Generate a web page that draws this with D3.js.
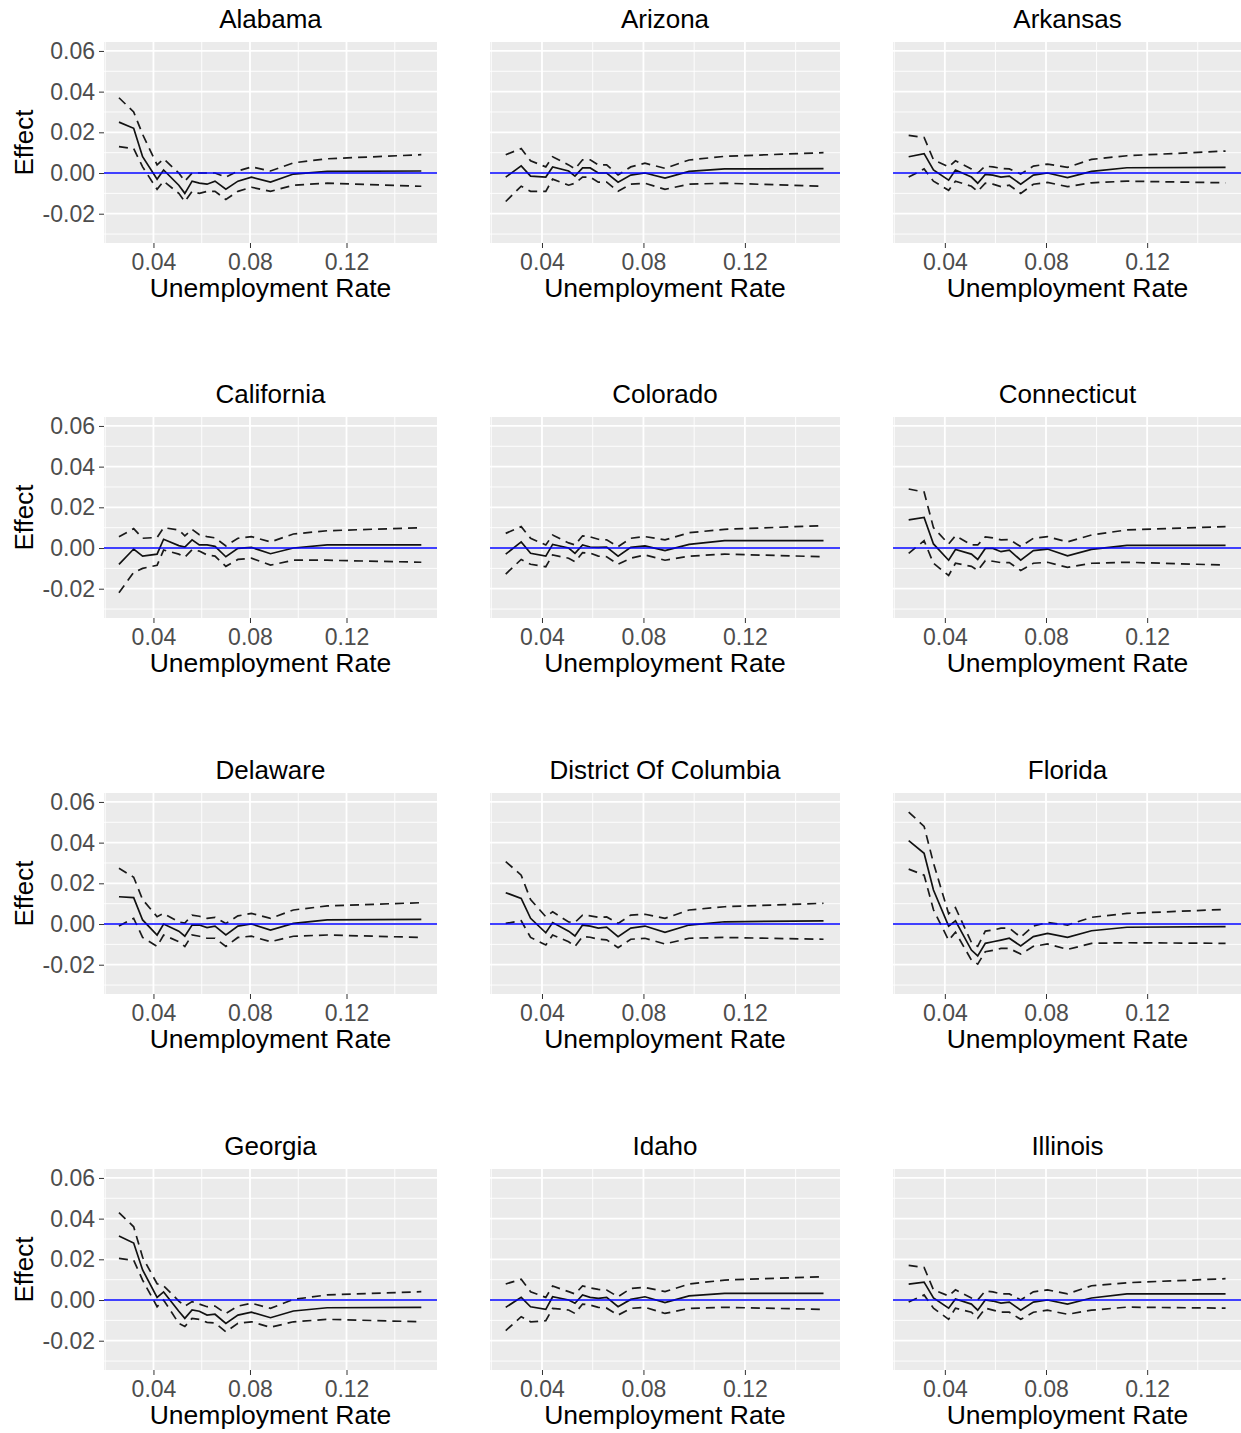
<!DOCTYPE html>
<html>
<head>
<meta charset="utf-8">
<script src="https://cdn.jsdelivr.net/npm/d3@7"></script>
<style>
  body { margin: 0; background: #fff; }
  svg { display: block; font-family: "Liberation Sans", Arial, Helvetica, sans-serif; }
</style>
</head>
<body>
<div id="chart"></div>
<script>
// State names, in panel order (row by row)
var states = ["Alabama", "Arizona", "Arkansas",
              "California", "Colorado", "Connecticut",
              "Delaware", "District Of Columbia", "Florida",
              "Georgia", "Idaho", "Illinois"];

// Unemployment rate grid shared by every panel
var rates = [0.0257, 0.0318, 0.0355, 0.0415, 0.0442, 0.0505, 0.0530, 0.0560, 0.0590,
             0.0622, 0.0655, 0.0700, 0.0750, 0.0806, 0.0885, 0.0980, 0.1120, 0.1510];

var xTicks = [0.04, 0.08, 0.12];
var yTicks = [-0.02, 0.00, 0.02, 0.04, 0.06];

// Point estimates, one row per state
var estimates = [
  [0.025, 0.022, 0.008, -0.003, 0.0015, -0.006, -0.010, -0.004, -0.005, -0.0055, -0.004, -0.008, -0.004, -0.002, -0.0045, -0.0005, 0.0008, 0.001],
  [-0.002, 0.0035, -0.0015, -0.002, 0.003, 0.001, -0.0015, 0.0025, 0.0025, 0.000, 0.000, -0.0045, -0.001, 0.000, -0.0025, 0.0008, 0.002, 0.0022],
  [0.008, 0.0095, 0.0015, -0.0035, 0.0015, -0.002, -0.005, -0.0007, -0.001, -0.002, -0.0015, -0.0055, -0.001, 0.000, -0.0023, 0.0008, 0.0026, 0.0028],
  [-0.008, -0.0005, -0.004, -0.003, 0.0043, 0.0012, 0.0005, 0.004, 0.0015, 0.0015, 0.0008, -0.0043, -0.0002, 0.0003, -0.0028, 0.000, 0.0015, 0.0015],
  [-0.003, 0.003, -0.0026, -0.004, 0.0018, 0.000, -0.0026, 0.0015, 0.0005, 0.0003, 0.0005, -0.004, 0.0003, 0.001, -0.0013, 0.0018, 0.0036, 0.0036],
  [0.0138, 0.015, 0.002, -0.006, -0.0007, -0.003, -0.0056, -0.0002, -0.0002, -0.0018, -0.001, -0.006, -0.0013, -0.0005, -0.0038, -0.0007, 0.0013, 0.0013],
  [0.0134, 0.013, 0.002, -0.0054, 0.000, -0.0035, -0.006, -0.0005, -0.0005, -0.0018, -0.001, -0.0054, -0.001, 0.000, -0.003, 0.0003, 0.002, 0.0023],
  [0.0154, 0.0126, 0.0028, -0.0043, 0.0007, -0.0035, -0.0059, -0.0005, -0.001, -0.002, -0.0015, -0.0062, -0.002, -0.001, -0.0041, -0.0005, 0.0011, 0.0015],
  [0.041, 0.0348, 0.0167, -0.001, 0.0016, -0.0128, -0.0157, -0.0095, -0.0087, -0.0079, -0.007, -0.0108, -0.0062, -0.0046, -0.0066, -0.0033, -0.0016, -0.0013],
  [0.0315, 0.028, 0.0148, 0.0013, 0.004, -0.0055, -0.009, -0.0049, -0.0055, -0.0074, -0.007, -0.0115, -0.0074, -0.006, -0.0087, -0.0054, -0.0038, -0.0036],
  [-0.0036, 0.0013, -0.0033, -0.0046, 0.0016, 0.000, -0.0016, 0.0025, 0.0013, 0.0008, 0.0013, -0.0033, 0.0003, 0.0016, -0.0013, 0.002, 0.0033, 0.0033],
  [0.0078, 0.0088, 0.001, -0.004, 0.0005, -0.002, -0.005, 0.000, -0.0005, -0.0015, -0.001, -0.005, -0.001, 0.000, -0.002, 0.001, 0.003, 0.003]
];

// Upper confidence bound
var upperCI = [
  [0.037, 0.030, 0.019, 0.004, 0.007, 0.000, -0.004, 0.000, 0.000, 0.000, 0.000, -0.002, 0.001, 0.003, 0.001, 0.005, 0.007, 0.009],
  [0.009, 0.012, 0.006, 0.003, 0.008, 0.004, 0.002, 0.0065, 0.0065, 0.004, 0.004, -0.001, 0.003, 0.0048, 0.0023, 0.0064, 0.0082, 0.010],
  [0.0185, 0.0175, 0.0065, 0.003, 0.006, 0.002, 0.000, 0.0034, 0.003, 0.0023, 0.002, -0.0005, 0.0034, 0.0044, 0.0028, 0.0067, 0.0085, 0.0108],
  [0.0055, 0.0095, 0.0048, 0.0052, 0.010, 0.0088, 0.006, 0.0092, 0.0065, 0.0056, 0.005, 0.001, 0.0048, 0.0056, 0.003, 0.0069, 0.0085, 0.010],
  [0.0072, 0.0105, 0.0048, 0.0015, 0.0064, 0.0025, 0.0015, 0.006, 0.0055, 0.0043, 0.004, 0.0007, 0.0048, 0.0056, 0.004, 0.0075, 0.0092, 0.011],
  [0.029, 0.0275, 0.010, 0.002, 0.006, 0.0015, 0.0015, 0.0055, 0.005, 0.004, 0.0042, 0.0007, 0.0048, 0.0056, 0.003, 0.0064, 0.0089, 0.0105],
  [0.0274, 0.023, 0.012, 0.0036, 0.0052, 0.001, 0.0005, 0.0044, 0.0038, 0.0028, 0.0033, 0.0003, 0.004, 0.0052, 0.0028, 0.0069, 0.0089, 0.0105],
  [0.0307, 0.024, 0.012, 0.0036, 0.006, 0.001, 0.0008, 0.0044, 0.004, 0.0033, 0.0035, 0.0003, 0.0044, 0.0048, 0.0028, 0.0069, 0.0085, 0.0102],
  [0.055, 0.048, 0.030, 0.005, 0.008, -0.009, -0.011, -0.0035, -0.003, -0.002, -0.002, -0.0065, -0.001, 0.0007, -0.0005, 0.0033, 0.0052, 0.0072],
  [0.043, 0.036, 0.021, 0.008, 0.007, -0.0005, -0.003, -0.0008, -0.002, -0.0033, -0.003, -0.0066, -0.003, -0.0016, -0.0041, 0.0003, 0.0025, 0.0041],
  [0.0079, 0.0102, 0.0041, 0.0013, 0.0069, 0.0041, 0.003, 0.0069, 0.006, 0.0052, 0.0049, 0.0016, 0.0057, 0.0062, 0.0041, 0.0079, 0.0098, 0.0115],
  [0.017, 0.016, 0.005, 0.002, 0.005, 0.001, 0.000, 0.0045, 0.004, 0.003, 0.003, 0.000, 0.004, 0.005, 0.003, 0.007, 0.0085, 0.0105]
];

// Lower confidence bound
var lowerCI = [
  [0.013, 0.012, 0.003, -0.008, -0.004, -0.010, -0.014, -0.009, -0.010, -0.009, -0.009, -0.013, -0.009, -0.007, -0.009, -0.006, -0.005, -0.0065],
  [-0.014, -0.0065, -0.009, -0.009, -0.003, -0.006, -0.005, -0.002, -0.002, -0.0045, -0.0045, -0.009, -0.0055, -0.005, -0.008, -0.0055, -0.005, -0.0065],
  [-0.002, 0.002, -0.004, -0.0085, -0.004, -0.0065, -0.009, -0.005, -0.0055, -0.0067, -0.006, -0.010, -0.0055, -0.0046, -0.0067, -0.0048, -0.004, -0.0048],
  [-0.022, -0.012, -0.010, -0.0085, -0.001, -0.003, -0.0045, -0.0008, -0.0015, -0.0034, -0.004, -0.009, -0.0056, -0.005, -0.0084, -0.006, -0.006, -0.007],
  [-0.0128, -0.0056, -0.008, -0.0092, -0.0034, -0.005, -0.0067, -0.0023, -0.0025, -0.004, -0.0043, -0.008, -0.005, -0.0034, -0.006, -0.004, -0.003, -0.0043],
  [-0.0026, 0.0036, -0.0075, -0.0135, -0.0075, -0.009, -0.011, -0.0062, -0.0065, -0.0072, -0.0072, -0.011, -0.0075, -0.007, -0.0095, -0.0075, -0.007, -0.0084],
  [-0.001, 0.0028, -0.0066, -0.011, -0.0054, -0.0087, -0.011, -0.0054, -0.006, -0.007, -0.007, -0.011, -0.0066, -0.006, -0.0087, -0.006, -0.0054, -0.0066],
  [0.0003, 0.0016, -0.0066, -0.0103, -0.0054, -0.0087, -0.011, -0.0062, -0.0065, -0.0075, -0.0078, -0.0116, -0.0075, -0.007, -0.0098, -0.007, -0.0066, -0.0075],
  [0.027, 0.024, 0.007, -0.008, -0.004, -0.0177, -0.0197, -0.0136, -0.013, -0.012, -0.012, -0.0148, -0.011, -0.0098, -0.0125, -0.0095, -0.0092, -0.0095],
  [0.0205, 0.0195, 0.0098, -0.0033, 0.000, -0.0115, -0.013, -0.009, -0.0095, -0.011, -0.0113, -0.0156, -0.0115, -0.0107, -0.0134, -0.0107, -0.0095, -0.0107],
  [-0.015, -0.0082, -0.0107, -0.0102, -0.0041, -0.0049, -0.0066, -0.002, -0.0025, -0.0036, -0.004, -0.0074, -0.0041, -0.0036, -0.0066, -0.0041, -0.0036, -0.0046],
  [-0.001, 0.0025, -0.004, -0.0095, -0.004, -0.006, -0.009, -0.004, -0.005, -0.006, -0.006, -0.0095, -0.006, -0.005, -0.007, -0.005, -0.0035, -0.004]
];

var width = 1241, height = 1433;

// Panel placement: column left edges / widths and row tops
var cols = [{left: 104, width: 333}, {left: 490, width: 350}, {left: 893, width: 349}];
var rowTops = [42, 417, 793, 1169];
var panelHeight = 201;

var xDomain = [0.0195, 0.1575];
var yDomain = [-0.0344, 0.0644];
var xMinor = [0.02, 0.06, 0.10, 0.14];
var yMinor = [-0.03, -0.01, 0.01, 0.03, 0.05];

var svg = d3.select("#chart").append("svg")
    .attr("width", width)
    .attr("height", height);

var fmt = function(d) { return d.toFixed(2); };

states.forEach(function(name, i) {
    var col = cols[i % 3];
    var top = rowTops[Math.floor(i / 3)];

    var x = d3.scaleLinear().domain(xDomain).range([0, col.width]);
    var y = d3.scaleLinear().domain(yDomain).range([panelHeight, 0]);

    var g = svg.append("g")
        .attr("transform", "translate(" + col.left + "," + top + ")");

    // Grey panel background
    g.append("rect")
        .attr("width", col.width)
        .attr("height", panelHeight)
        .attr("fill", "#EBEBEB");

    // Minor grid
    g.selectAll("line.xminor").data(xMinor.filter(function(d) { return d > xDomain[0]; }))
        .enter().append("line")
        .attr("x1", x).attr("x2", x)
        .attr("y1", 0).attr("y2", panelHeight)
        .attr("stroke", "#fff").attr("stroke-width", 0.9);
    g.selectAll("line.yminor").data(yMinor)
        .enter().append("line")
        .attr("y1", y).attr("y2", y)
        .attr("x1", 0).attr("x2", col.width)
        .attr("stroke", "#fff").attr("stroke-width", 0.9);

    // Major grid
    g.selectAll("line.xmajor").data(xTicks)
        .enter().append("line")
        .attr("x1", x).attr("x2", x)
        .attr("y1", 0).attr("y2", panelHeight)
        .attr("stroke", "#fff").attr("stroke-width", 1.8);
    g.selectAll("line.ymajor").data(yTicks)
        .enter().append("line")
        .attr("y1", y).attr("y2", y)
        .attr("x1", 0).attr("x2", col.width)
        .attr("stroke", "#fff").attr("stroke-width", 1.8);

    var line = d3.line()
        .x(function(d, j) { return x(rates[j]); })
        .y(function(d) { return y(d); });

    // Confidence bounds
    [upperCI[i], lowerCI[i]].forEach(function(series) {
        g.append("path")
            .attr("d", line(series))
            .attr("fill", "none")
            .attr("stroke", "#1a1a1a")
            .attr("stroke-width", 1.7)
            .attr("stroke-dasharray", "9,6");
    });

    // Point estimate
    g.append("path")
        .attr("d", line(estimates[i]))
        .attr("fill", "none")
        .attr("stroke", "#111")
        .attr("stroke-width", 1.7);

    // Zero reference line
    g.append("line")
        .attr("x1", 0).attr("x2", col.width)
        .attr("y1", y(0)).attr("y2", y(0))
        .attr("stroke", "#0000FF")
        .attr("stroke-width", 1.5);

    // X axis
    var xAxis = g.append("g")
        .attr("transform", "translate(0," + panelHeight + ")")
        .call(d3.axisBottom(x).tickValues(xTicks).tickFormat(fmt).tickSize(5).tickPadding(6));
    // Y axis
    var yAxis = g.append("g")
        .call(d3.axisLeft(y).tickValues(yTicks).tickFormat(fmt).tickSize(5).tickPadding(4));

    [xAxis, yAxis].forEach(function(ax) {
        ax.select(".domain").remove();
        ax.selectAll(".tick line").attr("stroke", "#333").attr("stroke-width", 1);
        ax.selectAll(".tick text")
            .attr("fill", "#4D4D4D")
            .style("font-size", "23px")
            .style("font-family", "'Liberation Sans', Arial, sans-serif");
    });
    // Only the first column shows y tick labels
    if (i % 3 !== 0) {
        yAxis.selectAll(".tick text").remove();
        yAxis.selectAll(".tick line").attr("stroke", "none");
    }

    // Panel title
    g.append("text")
        .attr("x", col.width / 2)
        .attr("y", -14)
        .attr("text-anchor", "middle")
        .style("font-size", "26px")
        .attr("fill", "#000")
        .text(name);

    // X axis title
    g.append("text")
        .attr("x", col.width / 2)
        .attr("y", panelHeight + 54)
        .attr("text-anchor", "middle")
        .style("font-size", "26.5px")
        .attr("fill", "#000")
        .text("Unemployment Rate");

    // Y axis title, first column only
    if (i % 3 === 0) {
        g.append("text")
            .attr("transform", "translate(" + (33 - col.left) + "," + (panelHeight / 2) + ") rotate(-90)")
            .attr("text-anchor", "middle")
            .style("font-size", "26px")
            .attr("fill", "#000")
            .text("Effect");
    }
});
</script>
</body>
</html>
